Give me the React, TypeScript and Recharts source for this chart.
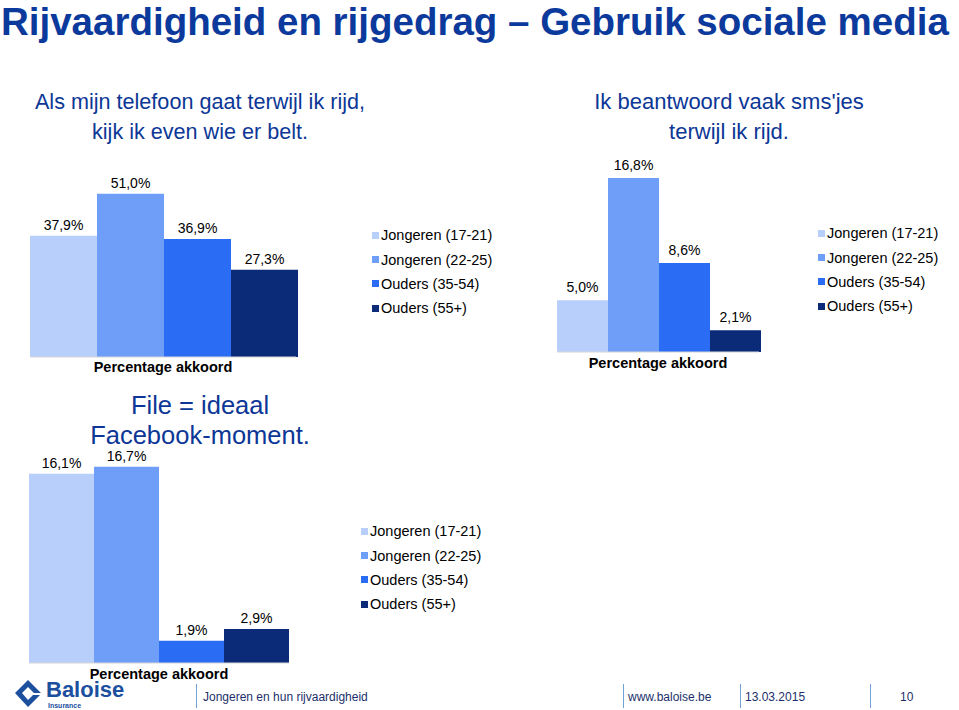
import { BarChart, Bar, XAxis, YAxis, LabelList, Legend } from "recharts";

const seriesNames = ["Jongeren (17-21)", "Jongeren (22-25)", "Ouders (35-54)", "Ouders (55+)"];
const seriesKeys = ["j1721", "j2225", "o3554", "o55"];
const seriesColors = ["#B9CFFB", "#6F9EF8", "#2B6CF5", "#0B2A78"];
const category = "Percentage akkoord";

// Als mijn telefoon gaat terwijl ik rijd, kijk ik even wie er belt.
const telefoonValues = [37.9, 51.0, 36.9, 27.3];
// Ik beantwoord vaak sms'jes terwijl ik rijd.
const smsValues = [5.0, 16.8, 8.6, 2.1];
// File = ideaal Facebook-moment.
const facebookValues = [16.1, 16.7, 1.9, 2.9];

const FONT = '"Liberation Sans", Arial, sans-serif';
const NAVY = "#0C3796";

function toRow(values: number[]) {
  const row: Record<string, string | number> = { name: category };
  seriesKeys.forEach((k, i) => {
    row[k] = values[i];
  });
  return [row];
}

const pct = (v: number) => v.toFixed(1).replace(".", ",") + "%";

function LegendBox(props: any) {
  const items = props.payload ?? [];
  return (
    <div style={{ fontFamily: FONT }}>
      {items.map((entry: any) => (
        <div key={entry.value} style={{ display: "flex", alignItems: "center", height: 24.4, fontSize: 14.5, color: "#000" }}>
          <span style={{ width: 7, height: 7, background: entry.color, marginRight: 2, display: "inline-block" }} />
          {entry.value}
        </div>
      ))}
    </div>
  );
}

interface PanelProps {
  values: number[];
  left: number;
  top: number;
  width: number;
  height: number;
  margin: { top: number; right: number; bottom: number; left: number };
  yMax: number;
  axisHeight: number;
  tickMargin: number;
  labelOffset: number;
  legendLeft: number;
  legendTop: number;
}

function Panel({ values, left, top, width, height, margin, yMax, axisHeight, tickMargin, labelOffset, legendLeft, legendTop }: PanelProps) {
  return (
    <div style={{ position: "absolute", left, top }}>
      <BarChart width={width} height={height} data={toRow(values)} margin={margin} barCategoryGap={0} barGap={0}>
        <XAxis
          dataKey="name"
          tickLine={false}
          axisLine={{ stroke: "#d6d6d6" }}
          tick={{ fontSize: 14.5, fontWeight: "bold", fill: "#000", fontFamily: FONT }}
          tickMargin={tickMargin}
          tickSize={2}
          height={axisHeight}
          interval={0}
        />
        <YAxis hide domain={[0, yMax]} />
        <Legend
          layout="vertical"
          align="center"
          verticalAlign="middle"
          wrapperStyle={{ left: legendLeft, top: legendTop, width: 140 }}
          content={<LegendBox />}
        />
        {seriesKeys.map((k, i) => (
          <Bar key={k} dataKey={k} name={seriesNames[i]} fill={seriesColors[i]} isAnimationActive={false}>
            <LabelList
              dataKey={k}
              position="top"
              offset={labelOffset}
              formatter={(v: any) => pct(Number(v))}
              style={{ fontSize: 14, fill: "#000", fontFamily: FONT }}
            />
          </Bar>
        ))}
      </BarChart>
    </div>
  );
}

function Logo() {
  return (
    <svg style={{ position: "absolute", left: 12, top: 678 }} width={124} height={32}>
      <path d="M3 15 L16 2 L29 15 L22 15 L16 9 L10 15 L16 22 L21 17 L28 17 L16 29 Z" fill="#1D4F9F" />
      <text x={34} y={19} fontSize={22} fontWeight="bold" fill="#1D4F9F" fontFamily={FONT}>
        Baloise
      </text>
      <text x={36} y={30} fontSize={7} fontWeight="bold" fill="#1D4F9F" fontFamily={FONT}>
        Insurance
      </text>
    </svg>
  );
}

const sep = (x: number) => (
  <div style={{ position: "absolute", left: x, top: 684, width: 1, height: 24, background: "#6FA3D8" }} />
);

const footText = (x: number, text: string) => (
  <div style={{ position: "absolute", left: x, top: 690, fontSize: 12, color: "#1C2F6B", fontFamily: FONT, whiteSpace: "nowrap" }}>
    {text}
  </div>
);

export default function App() {
  return (
    <div style={{ position: "absolute", left: 0, top: 0, width: 959, height: 710, background: "#fff", overflow: "hidden", fontFamily: FONT }}>
      <div style={{ position: "absolute", left: 1, top: 0, fontSize: 38.5, lineHeight: "normal", fontWeight: "bold", color: "#0B3A9C", whiteSpace: "nowrap" }}>
        Rijvaardigheid en rijgedrag – Gebruik sociale media
      </div>

      <div style={{ position: "absolute", left: 0, top: 87, width: 400, textAlign: "center", fontSize: 21.6, lineHeight: "30px", color: NAVY }}>
        Als mijn telefoon gaat terwijl ik rijd,
        <br />
        kijk ik even wie er belt.
      </div>
      <div style={{ position: "absolute", left: 529, top: 87, width: 400, textAlign: "center", fontSize: 22, lineHeight: "30px", color: NAVY }}>
        Ik beantwoord vaak sms'jes
        <br />
        terwijl ik rijd.
      </div>

      <Panel
        values={telefoonValues}
        left={0}
        top={150}
        width={480}
        height={230}
        margin={{ top: 15, right: 184, bottom: 3, left: 30 }}
        yMax={60}
        axisHeight={20}
        tickMargin={3}
        labelOffset={6}
        legendLeft={372}
        legendTop={73}
      />

      <Panel
        values={smsValues}
        left={540}
        top={130}
        width={419}
        height={250}
        margin={{ top: 15, right: 200, bottom: 3, left: 17 }}
        yMax={20}
        axisHeight={25}
        tickMargin={4}
        labelOffset={8}
        legendLeft={278}
        legendTop={91}
      />

      <Panel
        values={facebookValues}
        left={0}
        top={410}
        width={480}
        height={290}
        margin={{ top: 18, right: 191, bottom: 7, left: 29 }}
        yMax={20}
        axisHeight={30}
        tickMargin={4}
        labelOffset={6}
        legendLeft={361}
        legendTop={109}
      />

      <div style={{ position: "absolute", left: 0, top: 390, width: 400, textAlign: "center", fontSize: 25.5, lineHeight: "30px", color: NAVY }}>
        File = ideaal
        <br />
        Facebook-moment.
      </div>

      <Logo />
      {sep(196)}
      {footText(203, "Jongeren en hun rijvaardigheid")}
      {sep(623)}
      {footText(628, "www.baloise.be")}
      {sep(740)}
      {footText(745, "13.03.2015")}
      {sep(870)}
      {footText(900, "10")}
    </div>
  );
}
